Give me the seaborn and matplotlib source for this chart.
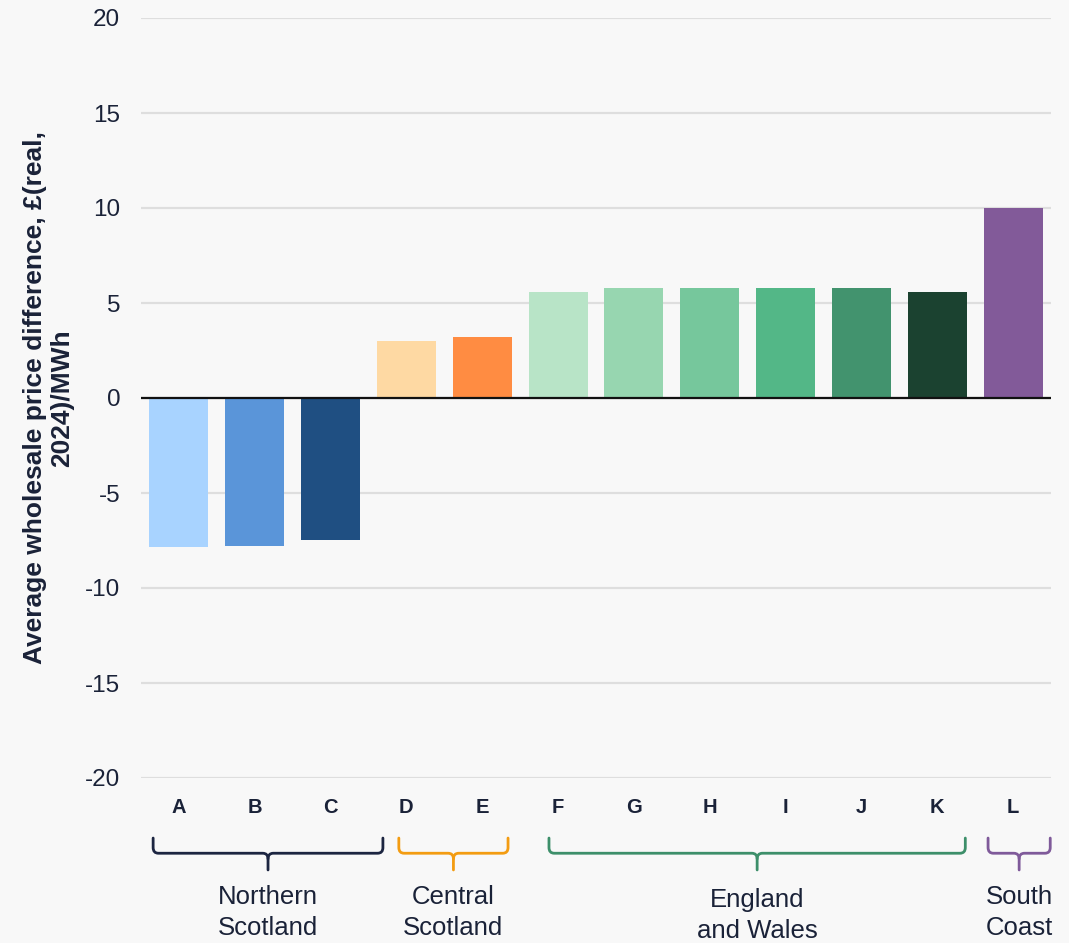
import matplotlib
matplotlib.use("Agg")
import matplotlib.pyplot as plt
import matplotlib.transforms as mtransforms
from matplotlib.path import Path
from matplotlib.patches import PathPatch
import seaborn as sns
import pandas as pd

# ---- data ----
categories = ["A", "B", "C", "D", "E", "F", "G", "H", "I", "J", "K", "L"]
values = [-7.85, -7.8, -7.47, 3.0, 3.2, 5.6, 5.8, 5.8, 5.8, 5.8, 5.6, 10.0]
bar_colors = ["#a8d3ff", "#5a95d9", "#1f4f82", "#fed9a3", "#ff8c42",
              "#b8e4c7", "#97d6b0", "#76c79c", "#53b787", "#42936e",
              "#1b4230", "#825a99"]
group_names = ["Northern\nScotland", "Central\nScotland", "England\nand Wales", "South\nCoast"]
group_colors = ["#1c2541", "#f39c12", "#3d8f6a", "#7f5a9a"]
y_ticks = [-20, -15, -10, -5, 0, 5, 10, 15, 20]
y_label = "Average wholesale price difference, £(real,\n2024)/MWh"

# bracket extents in data-x units (layout)
group_spans = [(-0.34, 2.69), (2.90, 4.34), (4.88, 10.37), (10.67, 11.49)]

bg = "#f8f8f8"
text_color = "#1a2238"

sns.set_theme(style="white")
plt.rcParams["font.family"] = ["Liberation Sans", "DejaVu Sans"]

W, H = 1069, 943
fig = plt.figure(figsize=(W / 100, H / 100), dpi=100, facecolor=bg)
ax = fig.add_axes([141 / W, 1 - 778 / H, 910 / W, 760 / H])
ax.set_facecolor(bg)

df = pd.DataFrame({"cat": categories, "val": values})
sns.barplot(data=df, x="cat", y="val", hue="cat", palette=bar_colors,
            order=categories, hue_order=categories, legend=False,
            width=0.78, saturation=1, linewidth=0, ax=ax, zorder=3)

ax.set_xlim(-0.5, 11.5)
ax.set_ylim(-20, 20)
ax.set_yticks(y_ticks)
ax.set_yticklabels([str(t) for t in y_ticks], fontsize=17.5, color=text_color)
ax.yaxis.grid(True, color="#dedede", linewidth=1.6, zorder=0)
ax.xaxis.grid(False)
ax.axhline(0, color="#111111", linewidth=1.6, zorder=4)
for s in ax.spines.values():
    s.set_visible(False)
ax.tick_params(axis="y", length=0, pad=15)
ax.tick_params(axis="x", length=0, pad=14.5)
for lbl in ax.get_xticklabels():
    lbl.set_fontweight("bold")
    lbl.set_fontsize(14.5)
    lbl.set_color(text_color)
ax.set_xlabel("")
ax.set_ylabel("")
fig.text(49 / W, 1 - 398 / H, y_label, rotation=90, ha="center", va="center",
         fontsize=19, fontweight="bold", color=text_color, linespacing=1.16,
         multialignment="center")

# brackets
trans = mtransforms.blended_transform_factory(ax.transData, ax.transAxes)
y_top, y_mid, y_tip = -0.079, -0.099, -0.121
rx, ry = 0.07, 0.0075
for (x0, x1), name, col in zip(group_spans, group_names, group_colors):
    xc = (x0 + x1) / 2
    verts = [(x0, y_top), (x0, y_mid + ry), (x0, y_mid), (x0 + rx, y_mid),
             (xc - rx, y_mid), (xc, y_mid), (xc, y_mid - ry), (xc, y_tip)]
    codes = [Path.MOVETO, Path.LINETO, Path.CURVE3, Path.CURVE3,
             Path.LINETO, Path.CURVE3, Path.CURVE3, Path.LINETO]
    verts2 = [(x1, y_top), (x1, y_mid + ry), (x1, y_mid), (x1 - rx, y_mid),
              (xc + rx, y_mid), (xc, y_mid), (xc, y_mid - ry)]
    codes2 = [Path.MOVETO, Path.LINETO, Path.CURVE3, Path.CURVE3,
              Path.LINETO, Path.CURVE3, Path.CURVE3]
    for v, c in ((verts, codes), (verts2, codes2)):
        patch = PathPatch(Path(v, c), facecolor="none", edgecolor=col, lw=2.0,
                          transform=trans, clip_on=False, capstyle="round",
                          joinstyle="round")
        ax.add_patch(patch)
    yoff = -0.1445 if name.startswith("England") else -0.1405
    ax.text(xc, yoff, name, transform=trans, ha="center", va="top",
            fontsize=18.5, color=text_color, linespacing=1.36)

fig.savefig("out.png", dpi=100, facecolor=bg)
